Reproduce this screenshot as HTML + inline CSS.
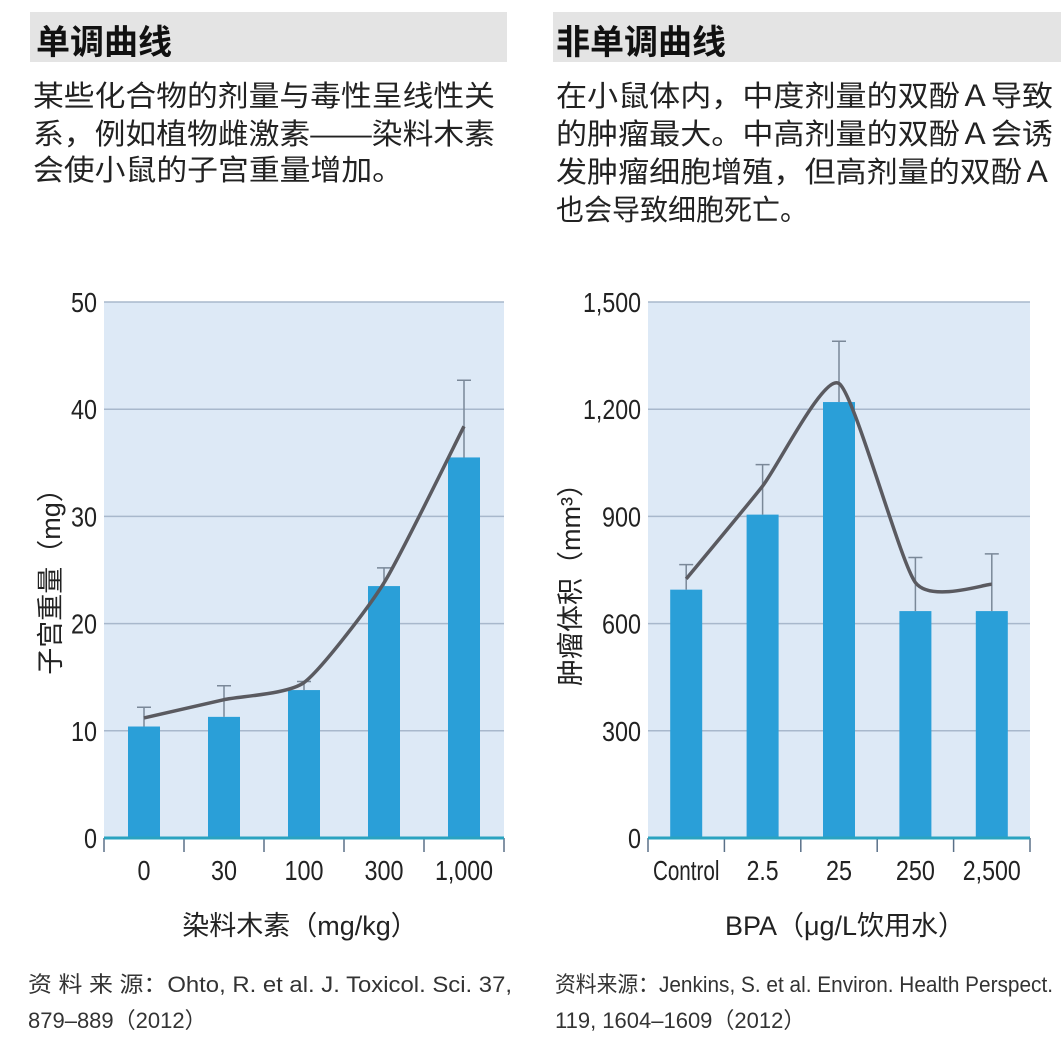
<!DOCTYPE html>
<html><head><meta charset="utf-8">
<style>
html,body{margin:0;padding:0;background:#fff;}
svg text{font-family:"Liberation Sans","Noto Sans CJK SC",sans-serif;}
.n{font-family:"Liberation Sans Narrow","Liberation Sans",sans-serif;}
</style></head>
<body>
<svg id="s" width="1061" height="1039" viewBox="0 0 1061 1039" xmlns="http://www.w3.org/2000/svg">
<rect x="30" y="12" width="477" height="50" fill="#e4e4e4"/>
<text x="36" y="54" font-size="34" font-weight="bold" fill="#111">单调曲线</text>
<text font-size="29" fill="#222">
<tspan x="33" y="106" textLength="462" lengthAdjust="spacingAndGlyphs">某些化合物的剂量与毒性呈线性关</tspan>
<tspan x="33" y="144" textLength="462" lengthAdjust="spacingAndGlyphs">系，例如植物雌激素——染料木素</tspan>
<tspan x="33" y="180" textLength="370" lengthAdjust="spacingAndGlyphs">会使小鼠的子宫重量增加。</tspan></text>
<rect x="553" y="12" width="508" height="50" fill="#e4e4e4"/>
<text x="556" y="54" font-size="34" font-weight="bold" fill="#111">非单调曲线</text>
<text font-size="29" fill="#222">
<tspan x="556" y="106" textLength="497" lengthAdjust="spacingAndGlyphs">在小鼠体内，中度剂量的双酚Ａ导致</tspan>
<tspan x="556" y="144" textLength="497" lengthAdjust="spacingAndGlyphs">的肿瘤最大。中高剂量的双酚Ａ会诱</tspan>
<tspan x="556" y="182" textLength="497" lengthAdjust="spacingAndGlyphs">发肿瘤细胞增殖，但高剂量的双酚Ａ</tspan>
<tspan x="556" y="220" textLength="252" lengthAdjust="spacingAndGlyphs">也会导致细胞死亡。</tspan></text>
<text x="300" y="935" font-size="27" fill="#222" text-anchor="middle">染料木素（mg/kg）</text>
<text transform="translate(60,575) rotate(-90)" font-size="27" fill="#222" text-anchor="middle">子宫重量（mg）</text>
<text x="845" y="935" font-size="27" fill="#222" text-anchor="middle">BPA（μg/L饮用水）</text>
<text transform="translate(580,578) rotate(-90)" font-size="27" fill="#222" text-anchor="middle">肿瘤体积（mm³）</text>
<text font-size="22" fill="#333"><tspan x="28" y="992" textLength="484" lengthAdjust="spacingAndGlyphs">资 料 来 源：Ohto, R. et al. J. Toxicol. Sci. 37,</tspan><tspan x="28" y="1028">879–889（2012）</tspan></text>
<text font-size="22" fill="#333"><tspan x="555" y="992" textLength="498" lengthAdjust="spacingAndGlyphs">资料来源：Jenkins, S. et al. Environ. Health Perspect.</tspan><tspan x="555" y="1028">119, 1604–1609（2012）</tspan></text>
</svg>
<script>
const leftCats=["0","30","100","300","1,000"];
const leftBars=[10.4,11.3,13.8,23.5,35.5];
const leftErr=[12.2,14.2,14.6,25.2,42.7];
const leftLine=[11.2,12.9,14.5,23.8,38.4];
const leftTicks=[0,10,20,30,40,50];
const leftTickLabels=["0","10","20","30","40","50"];
const rightCats=["Control","2.5","25","250","2,500"];
const rightBars=[695,905,1220,635,635];
const rightErr=[765,1045,1390,785,795];
const rightLine=[725,985,1272,715,710];
const rightTicks=[0,300,600,900,1200,1500];
const rightTickLabels=["0","300","600","900","1,200","1,500"];
const NS="http://www.w3.org/2000/svg";
const svg=document.getElementById('s');
function mk(t,a,p){const e=document.createElementNS(NS,t);for(const k in a)e.setAttribute(k,a[k]);(p||svg).appendChild(e);return e;}
function tlen(s){let w=0;for(const ch of s){w+=/[0-9]/.test(ch)?13:/[.,]/.test(ch)?6:9.5;}return w;}
function chart(pfx,x0,x1,y0,y1,max,cats,bars,errs,line,ticks,labels,bw){
  const g=mk('g',{});
  
  
  const ys=v=>y0-(v/max)*(y0-y1);
  const step=(x1-x0)/cats.length;
  const xs=i=>x0+step*(i+0.5);
  const bg=mk('rect',{x:x0,y:y1,width:x1-x0,height:y0-y1,fill:'#dde9f6'},g);
  
  
  ticks.forEach((t,i)=>{
    if(t>0){const gl=mk('line',{x1:x0,x2:x1,y1:ys(t),y2:ys(t),stroke:'#a8b8cc','stroke-width':1.5},g);
    
    }
    const s=labels[i];
    const tx=mk('text',{x:x0-7,y:ys(t)+10,'font-size':28,fill:'#222','text-anchor':'end',class:'n',textLength:tlen(s),lengthAdjust:'spacingAndGlyphs'},g);
    tx.textContent=s;
    
    
  });
  cats.forEach((c,i)=>{
    const b=mk('rect',{x:xs(i)-bw/2,y:ys(bars[i]),width:bw,height:ys(0)-ys(bars[i]),fill:'#2a9fd8'},g);
    
    
    const e=mk('path',{d:`M${xs(i)},${ys(bars[i])}V${ys(errs[i])}M${xs(i)-7},${ys(errs[i])}H${xs(i)+7}`,stroke:'#7a8898','stroke-width':1.5,fill:'none'},g);
    
    
    const tl=mk('text',{x:xs(i),y:y0+42,'font-size':28,fill:'#222','text-anchor':'middle',class:'n',textLength:tlen(c),lengthAdjust:'spacingAndGlyphs'},g);
    tl.textContent=c;
    
    
  });
  for(let i=0;i<=cats.length;i++){
    const tk=mk('line',{x1:x0+step*i,x2:x0+step*i,y1:y0,y2:y0+14,stroke:'#5a7088','stroke-width':1.5},g);
    
    
  }
  const base=mk('line',{x1:x0,x2:x1,y1:y0,y2:y0,stroke:'#2aa3c0','stroke-width':3},g);
  
  
  const pts=line.map((v,i)=>[xs(i),ys(v)]);
  let d=`M${pts[0][0]},${pts[0][1]}`;
  for(let i=0;i<pts.length-1;i++){
    const p0=pts[Math.max(0,i-1)],p1=pts[i],p2=pts[i+1],p3=pts[Math.min(pts.length-1,i+2)];
    const c1=[p1[0]+(p2[0]-p0[0])/10,p1[1]+(p2[1]-p0[1])/10];
    const c2=[p2[0]-(p3[0]-p1[0])/10,p2[1]-(p3[1]-p1[1])/10];
    d+=`C${c1[0]},${c1[1]} ${c2[0]},${c2[1]} ${p2[0]},${p2[1]}`;
  }
  const ln=mk('path',{d:d,stroke:'#5a5a60','stroke-width':3.5,fill:'none','stroke-linejoin':'round'},g);
  
  
}
chart('left',104,504,838,302,50,leftCats,leftBars,leftErr,leftLine,leftTicks,leftTickLabels,32);
chart('right',648,1030,838,302,1500,rightCats,rightBars,rightErr,rightLine,rightTicks,rightTickLabels,32);
</script>
</body></html>
